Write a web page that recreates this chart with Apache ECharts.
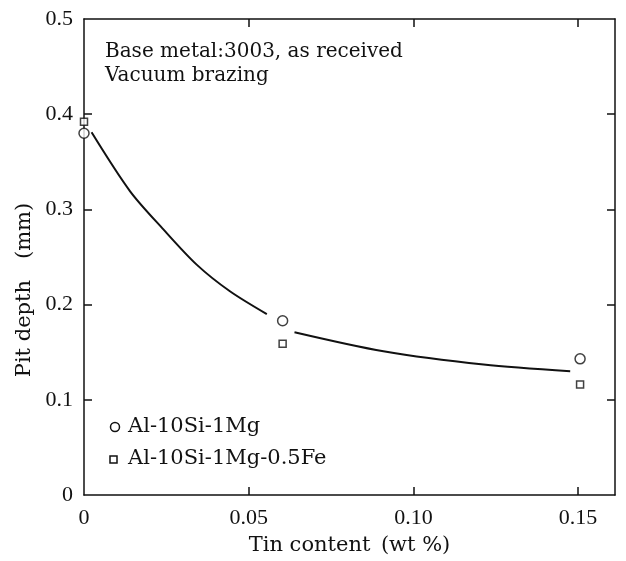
<!DOCTYPE html>
<html>
<head>
<meta charset="utf-8">
<script src="https://cdn.jsdelivr.net/npm/echarts@6/dist/echarts.min.js"></script>
<style>
  html, body { margin: 0; padding: 0; background: #fff; }
  #chart { width: 626px; height: 561px; }
</style>
</head>
<body>
<div id="chart"></div>
<script>
// measured points
const circleData = [[0, 0.380], [0.0603, 0.183], [0.1506, 0.143]];
const squareData = [[0, 0.392], [0.0603, 0.159], [0.1506, 0.116]];
// fitted curve, drawn in two pieces (broken around the middle circle)
const curveA = [[0.0023, 0.381], [0.014, 0.319], [0.0241, 0.279],
  [0.0342, 0.242], [0.0443, 0.214], [0.0555, 0.190]];
const curveB = [[0.0639, 0.171], [0.0909, 0.151], [0.1213, 0.137], [0.1476, 0.130]];
const xTicks = [0, 0.05, 0.10, 0.15];
const xTickLabels = ['0', '0.05', '0.10', '0.15'];
const yTicks = [0, 0.1, 0.2, 0.3, 0.4, 0.5];

const serif = '"Liberation Serif", serif';
const wide = '"DejaVu Serif", serif';
var chart = echarts.init(document.getElementById('chart'));

const lineStyle = { color: '#111', width: 1.5 };
const tick = { show: true, inside: true, length: 8, lineStyle: { color: '#111', width: 1.5 } };

const option = {
  animation: false,
  textStyle: { fontFamily: serif, color: '#111' },
  grid: { left: 84, right: 11, top: 19, bottom: 65 },
  graphic: [
    { type: 'text', left: 105, top: 40,
      style: { text: 'Base metal:3003, as received\nVacuum brazing', font: '20px ' + wide,
        fill: '#111', lineHeight: 24 } },
    { type: 'circle', shape: { cx: 115, cy: 427, r: 4.5 },
      style: { fill: '#fff', stroke: '#111', lineWidth: 1.5 } },
    { type: 'text', left: 128, top: 416,
      style: { text: 'Al-10Si-1Mg', font: '21px ' + wide, fill: '#111' } },
    { type: 'rect', shape: { x: 110, y: 456, width: 7, height: 7 },
      style: { fill: '#fff', stroke: '#111', lineWidth: 1.5 } },
    { type: 'text', left: 128, top: 448,
      style: { text: 'Al-10Si-1Mg-0.5Fe', font: '21px ' + wide, fill: '#111' } }
  ],
  xAxis: [
    {
      type: 'value', min: 0, max: 0.1612, position: 'bottom',
      name: 'Tin content\u2002(wt %)', nameLocation: 'middle', nameGap: 40,
      nameTextStyle: { fontSize: 21, fontFamily: wide, color: '#111' },
      axisLine: { onZero: false, lineStyle: lineStyle },
      axisTick: Object.assign({ customValues: xTicks.slice(1) }, tick),
      axisLabel: {
        customValues: xTicks, fontSize: 22, fontFamily: serif, color: '#111', margin: 12,
        formatter: v => xTickLabels[xTicks.findIndex(t => Math.abs(t - v) < 1e-6)]
      },
      splitLine: { show: false }
    },
    {
      type: 'value', min: 0, max: 0.1612, position: 'top',
      axisLine: { onZero: false, lineStyle: lineStyle },
      axisTick: Object.assign({ customValues: xTicks.slice(1) }, tick),
      axisLabel: { show: false }, splitLine: { show: false }
    }
  ],
  yAxis: [
    {
      type: 'value', min: 0, max: 0.5, interval: 0.1, position: 'left',
      name: 'Pit depth\u2003(mm)', nameLocation: 'middle', nameGap: 46,
      nameTextStyle: { fontSize: 21, fontFamily: wide, color: '#111', padding: [0, 66, 0, 0] },
      axisLine: { onZero: false, lineStyle: lineStyle },
      axisTick: Object.assign({ customValues: yTicks.slice(1, 5) }, tick),
      axisLabel: {
        fontSize: 22, fontFamily: serif, color: '#111', margin: 11,
        formatter: v => v === 0 ? '0' : v.toFixed(1)
      },
      splitLine: { show: false }
    },
    {
      type: 'value', min: 0, max: 0.5, interval: 0.1, position: 'right',
      axisLine: { onZero: false, lineStyle: lineStyle },
      axisTick: Object.assign({ customValues: yTicks.slice(1, 5) }, tick),
      axisLabel: { show: false }, splitLine: { show: false }
    }
  ],
  series: [
    {
      type: 'line', data: curveA, smooth: 0.3, symbol: 'none',
      lineStyle: { color: '#111', width: 2 }, z: 2
    },
    {
      type: 'line', data: curveB, smooth: 0.3, symbol: 'none',
      lineStyle: { color: '#111', width: 2 }, z: 2
    },
    {
      name: 'Al-10Si-1Mg', type: 'scatter', data: circleData,
      symbol: 'circle', symbolSize: 10,
      itemStyle: { color: '#fff', borderColor: '#111', borderWidth: 1.5 }, z: 3
    },
    {
      name: 'Al-10Si-1Mg-0.5Fe', type: 'scatter', data: squareData,
      symbol: 'rect', symbolSize: 7,
      itemStyle: { color: '#fff', borderColor: '#111', borderWidth: 1.5 }, z: 3
    }
  ]
};
chart.setOption(option);
</script>
</body>
</html>
